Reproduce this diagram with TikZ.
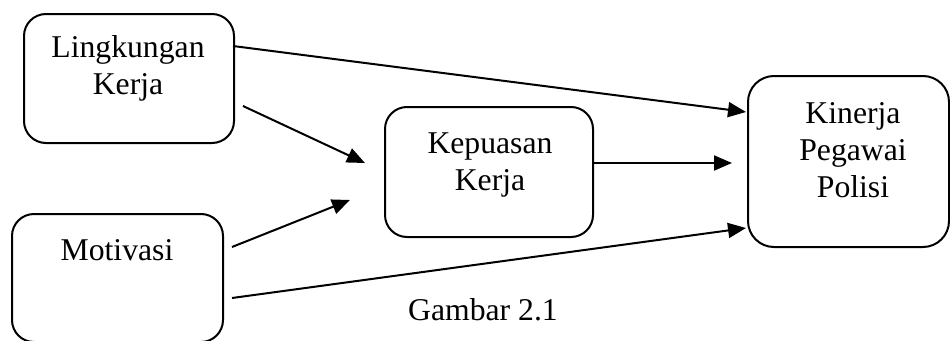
\documentclass[tikz,border=0pt]{standalone}
\usepackage{fontspec}
\setmainfont{Liberation Serif}
\usetikzlibrary{arrows.meta}
\begin{document}
\begin{tikzpicture}[x=1pt,y=-1pt,
  box/.style={draw, line width=2pt, rounded corners=22pt, anchor=north west, inner sep=0pt},
  lbl/.style={font=\fontsize{31.7}{37}\selectfont, align=center, inner sep=0pt, anchor=base},
  arr/.style={line width=2pt, -{Triangle[length=18pt,width=15pt]}}]
\useasboundingbox (0,0) rectangle (950,340);
% boxes
\node[box, minimum width=210pt, minimum height=129pt] (lk) at (23,13) {};
\node[box, minimum width=211pt, minimum height=128pt] (mo) at (11,213) {};
\node[box, minimum width=208pt, minimum height=130pt] (kp) at (384,106) {};
\node[box, minimum width=201pt, minimum height=171pt, rounded corners=26pt] (kn) at (747,75) {};
% texts (base = baseline of last line)
\node[lbl] (tlk) at (128,94) {Lingkungan\\Kerja};
\node[lbl] (tmo) at (117,260) {Motivasi};
\node[lbl] (tkp) at (490,190) {Kepuasan\\Kerja};
\node[lbl] (tkn) at (853,197) {Kinerja\\Pegawai\\Polisi};
\node[lbl] (cap) at (483,320) {Gambar 2.1};
% connector ends
\coordinate (a1s) at (233,46);  \coordinate (a1e) at (746,112);
\coordinate (a2s) at (243,106); \coordinate (a2e) at (365,163);
\coordinate (a3s) at (232,247); \coordinate (a3e) at (350,200);
\coordinate (a4s) at (593,163); \coordinate (a4e) at (732,163);
\coordinate (a5s) at (232,298); \coordinate (a5e) at (746,228);
\draw[arr] (a1s) -- (a1e);
\draw[arr] (a2s) -- (a2e);
\draw[arr] (a3s) -- (a3e);
\draw[arr] (a4s) -- (a4e);
\draw[arr] (a5s) -- (a5e);
\end{tikzpicture}
\end{document}
